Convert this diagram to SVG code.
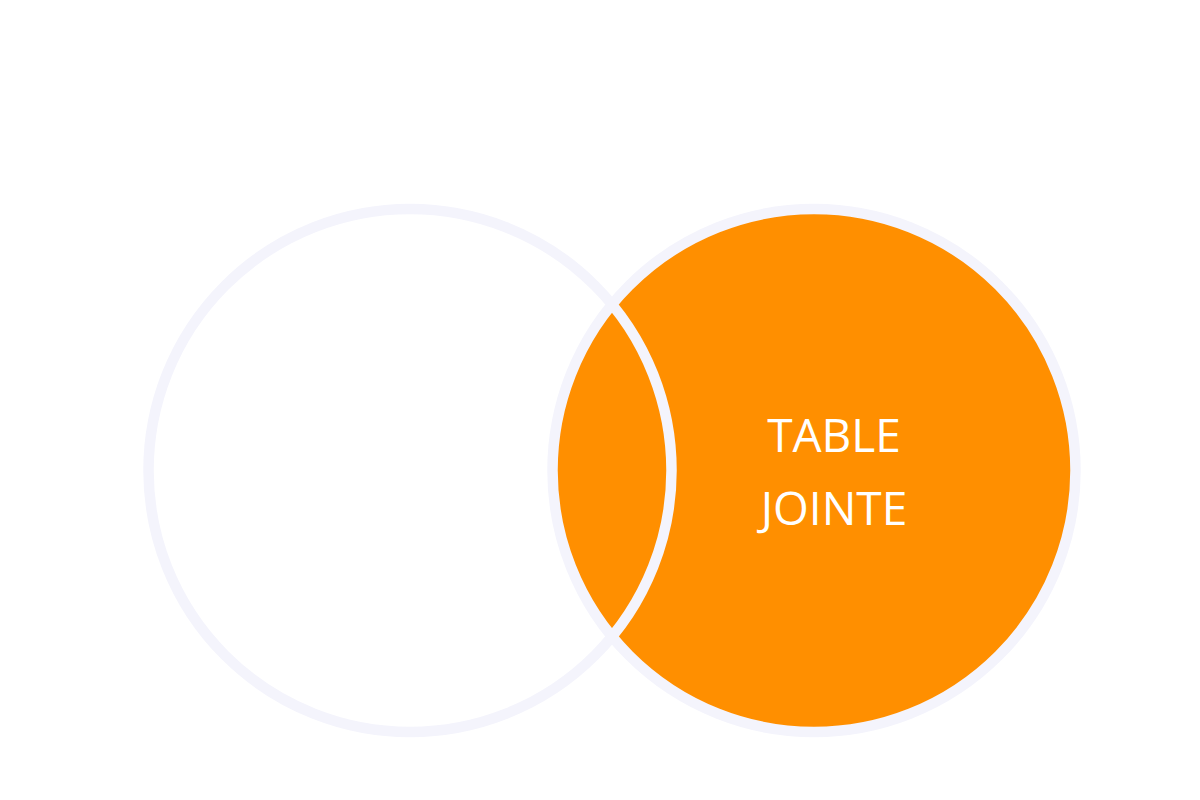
<svg xmlns="http://www.w3.org/2000/svg" width="1200" height="800" viewBox="0 0 1200 800">
<style>
.ring{stroke:#f4f4fc;stroke-width:10.5}
.lbl{font-family:"Open Sans","Noto Sans",sans-serif;font-size:46px;fill:#ffffff;text-anchor:middle}
</style>
<rect width="1200" height="800" fill="#ffffff"/>
<g id="right-set">
<circle class="ring" cx="814" cy="470.5" r="261.5" fill="#ff8f00"/>
<text class="lbl" x="834" y="452">TABLE</text>
<text class="lbl" x="834" y="525">JOINTE</text>
</g>
<g id="left-set">
<circle class="ring" cx="410" cy="470.5" r="261.5" fill="none"/>
</g>
</svg>
